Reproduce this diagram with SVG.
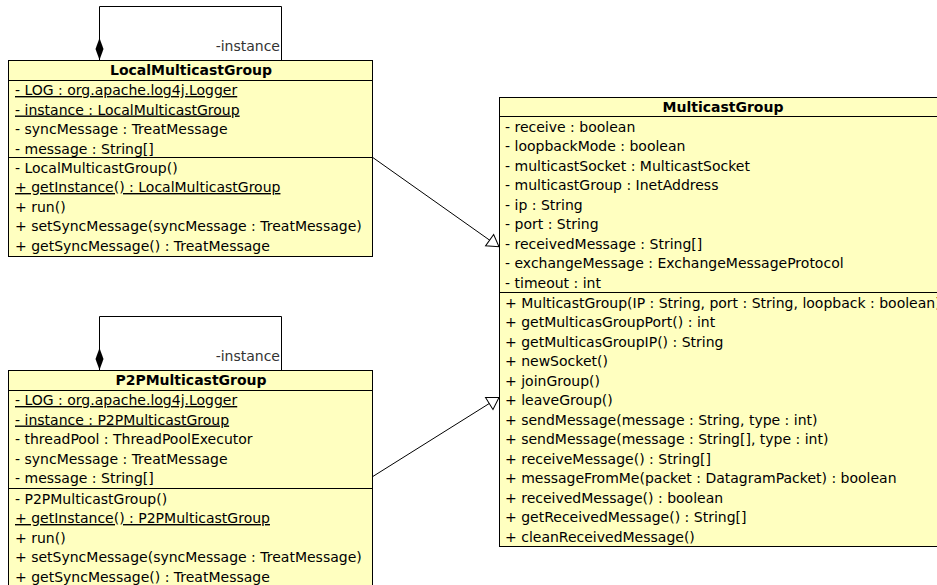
<svg xmlns="http://www.w3.org/2000/svg" width="937" height="585" viewBox="0 0 937 585">
<style>
  text { font-family: "DejaVu Sans", "Liberation Sans", sans-serif; font-size: 14px; fill: #000; }
  .title { font-weight: bold; text-anchor: middle; }
  .u { text-decoration: underline; }
  .box { fill: #FFFFC0; stroke: #000; stroke-width: 1; }
  .sep { stroke: #000; stroke-width: 1; }
  .conn { fill: none; stroke: #000; stroke-width: 1; }
  .role { fill: #333; text-anchor: end; }
</style>
<defs>
  <marker id="gen" viewBox="-13 -9 15 18" refX="0" refY="0" markerWidth="15" markerHeight="18" orient="auto" markerUnits="userSpaceOnUse">
    <path d="M0,0 L-11.5,-7 L-11.5,7 Z" fill="#fff" stroke="#000" stroke-width="1"/>
  </marker>
  <marker id="diamond" viewBox="-23 -5 24 10" refX="0" refY="0" markerWidth="24" markerHeight="10" orient="auto" markerUnits="userSpaceOnUse">
    <path d="M0,0 L-11,-4 L-22,0 L-11,4 Z" fill="#000"/>
  </marker>
</defs>

<g id="connectors">
  <path class="conn" d="M281.5,60 L281.5,6.5 L99.5,6.5 L99.5,60" marker-end="url(#diamond)"/>
  <text class="role" x="280" y="51">-instance</text>
  <path class="conn" d="M281.5,370 L281.5,316.5 L99.5,316.5 L99.5,370" marker-end="url(#diamond)"/>
  <text class="role" x="280" y="361">-instance</text>
  <path class="conn" d="M372.5,157.3 L499,246.8" marker-end="url(#gen)"/>
  <path class="conn" d="M372.5,476.7 L499,397.4" marker-end="url(#gen)"/>
</g>

<g id="LocalMulticastGroup">
  <rect class="box" x="8.5" y="60.5" width="364" height="196"/>
  <line class="sep" x1="8.5" y1="80.5" x2="372.5" y2="80.5"/>
  <line class="sep" x1="8.5" y1="157.5" x2="372.5" y2="157.5"/>
  <text class="title" x="191" y="75">LocalMulticastGroup</text>
  <text class="u" x="15" y="95">- LOG : org.apache.log4j.Logger</text>
  <text class="u" x="15" y="114.5">- instance : LocalMulticastGroup</text>
  <text x="15" y="134">- syncMessage : TreatMessage</text>
  <text x="15" y="153.5">- message : String[]</text>
  <text x="15" y="172.5">- LocalMulticastGroup()</text>
  <text class="u" x="15" y="192">+ getInstance() : LocalMulticastGroup</text>
  <text x="15" y="211.5">+ run()</text>
  <text x="15" y="231">+ setSyncMessage(syncMessage : TreatMessage)</text>
  <text x="15" y="250.5">+ getSyncMessage() : TreatMessage</text>
</g>

<g id="P2PMulticastGroup">
  <rect class="box" x="8.5" y="370.5" width="364" height="215.5"/>
  <line class="sep" x1="8.5" y1="390.5" x2="372.5" y2="390.5"/>
  <line class="sep" x1="8.5" y1="488.5" x2="372.5" y2="488.5"/>
  <text class="title" x="191" y="385">P2PMulticastGroup</text>
  <text class="u" x="15" y="405">- LOG : org.apache.log4j.Logger</text>
  <text class="u" x="15" y="424.5">- instance : P2PMulticastGroup</text>
  <text x="15" y="444">- threadPool : ThreadPoolExecutor</text>
  <text x="15" y="463.5">- syncMessage : TreatMessage</text>
  <text x="15" y="483">- message : String[]</text>
  <text x="15" y="503.5">- P2PMulticastGroup()</text>
  <text class="u" x="15" y="523">+ getInstance() : P2PMulticastGroup</text>
  <text x="15" y="542.5">+ run()</text>
  <text x="15" y="562">+ setSyncMessage(syncMessage : TreatMessage)</text>
  <text x="15" y="581.5">+ getSyncMessage() : TreatMessage</text>
</g>

<g id="MulticastGroup">
  <rect class="box" x="499.5" y="97.5" width="450" height="449"/>
  <line class="sep" x1="499.5" y1="116.5" x2="949.5" y2="116.5"/>
  <line class="sep" x1="499.5" y1="292.5" x2="949.5" y2="292.5"/>
  <text class="title" x="723" y="112">MulticastGroup</text>
  <text x="505" y="131.5">- receive : boolean</text>
  <text x="505" y="151">- loopbackMode : boolean</text>
  <text x="505" y="170.5">- multicastSocket : MulticastSocket</text>
  <text x="505" y="190">- multicastGroup : InetAddress</text>
  <text x="505" y="209.5">- ip : String</text>
  <text x="505" y="229">- port : String</text>
  <text x="505" y="248.5">- receivedMessage : String[]</text>
  <text x="505" y="268">- exchangeMessage : ExchangeMessageProtocol</text>
  <text x="505" y="287.5">- timeout : int</text>
  <text x="505" y="307.5">+ MulticastGroup(IP : String, port : String, loopback : boolean)</text>
  <text x="505" y="327">+ getMulticasGroupPort() : int</text>
  <text x="505" y="346.5">+ getMulticasGroupIP() : String</text>
  <text x="505" y="366">+ newSocket()</text>
  <text x="505" y="385.5">+ joinGroup()</text>
  <text x="505" y="405">+ leaveGroup()</text>
  <text x="505" y="424.5">+ sendMessage(message : String, type : int)</text>
  <text x="505" y="444">+ sendMessage(message : String[], type : int)</text>
  <text x="505" y="463.5">+ receiveMessage() : String[]</text>
  <text x="505" y="483">+ messageFromMe(packet : DatagramPacket) : boolean</text>
  <text x="505" y="502.5">+ receivedMessage() : boolean</text>
  <text x="505" y="522">+ getReceivedMessage() : String[]</text>
  <text x="505" y="541.5">+ cleanReceivedMessage()</text>
</g>
</svg>
